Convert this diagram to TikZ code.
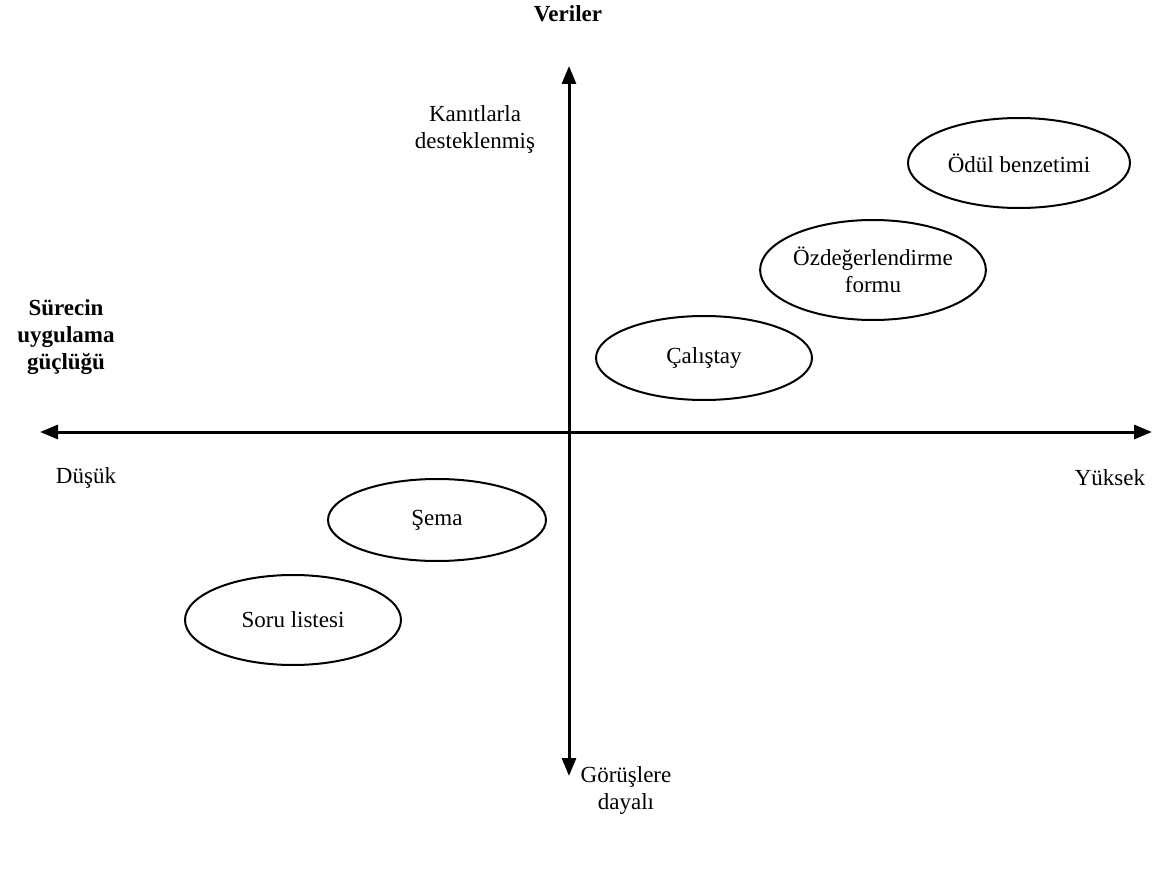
\documentclass[tikz,border=0pt]{standalone}
\usepackage{fontspec}
\setmainfont{Liberation Serif}
\usetikzlibrary{positioning,arrows.meta,shapes.geometric}

\begin{document}
\begin{tikzpicture}[x=0.5pt,y=-0.5pt,
  lbl/.style={align=center,font=\fontsize{11.5}{13.5}\selectfont},
  head/.style={align=center,font=\fontsize{11.5}{13.5}\selectfont\bfseries},
  blob/.style={lbl,draw,ellipse,line width=1pt,inner sep=0pt},
  axis/.style={line width=1.5pt,{Triangle[length=9pt,width=7pt]}-{Triangle[length=9pt,width=7pt]}}]
\useasboundingbox (0,0) rectangle (1158,883);
% axes
\coordinate (west) at (40,432); \coordinate (east) at (1152,432);
\coordinate (north) at (569,66); \coordinate (south) at (569,776);
\draw[axis] (west) -- (east);
\draw[axis] (south) -- (north);
% axis labels
\node[head] (veri) at (568,14) {Veriler};
\node[lbl] (kanit) at (475,129) {Kanıtlarla\\desteklenmiş};
\node[lbl] (gorus) at (626,790) {Görüşlere\\dayalı};
\node[head] (surec) at (66,337) {Sürecin\\uygulama\\güçlüğü};
\node[lbl] (dusuk) at (86,478) {Düşük};
\node[lbl] (yuksek) at (1110,478) {Yüksek};
% tools
\node[blob,minimum width=111pt,minimum height=45pt] (odul) at (1019,163) {Ödül benzetimi};
\node[blob,minimum width=110pt,minimum height=50pt] (ozde) at (873,270) {Özdeğerlendirme\\formu};
\node[blob,minimum width=108pt,minimum height=42pt] (calis) at (704,358) {Çalıştay};
\node[blob,minimum width=109pt,minimum height=41pt] (sema) at (437,520) {Şema};
\node[blob,minimum width=108pt,minimum height=45pt] (soru) at (293,620) {Soru listesi};
\end{tikzpicture}
\end{document}
